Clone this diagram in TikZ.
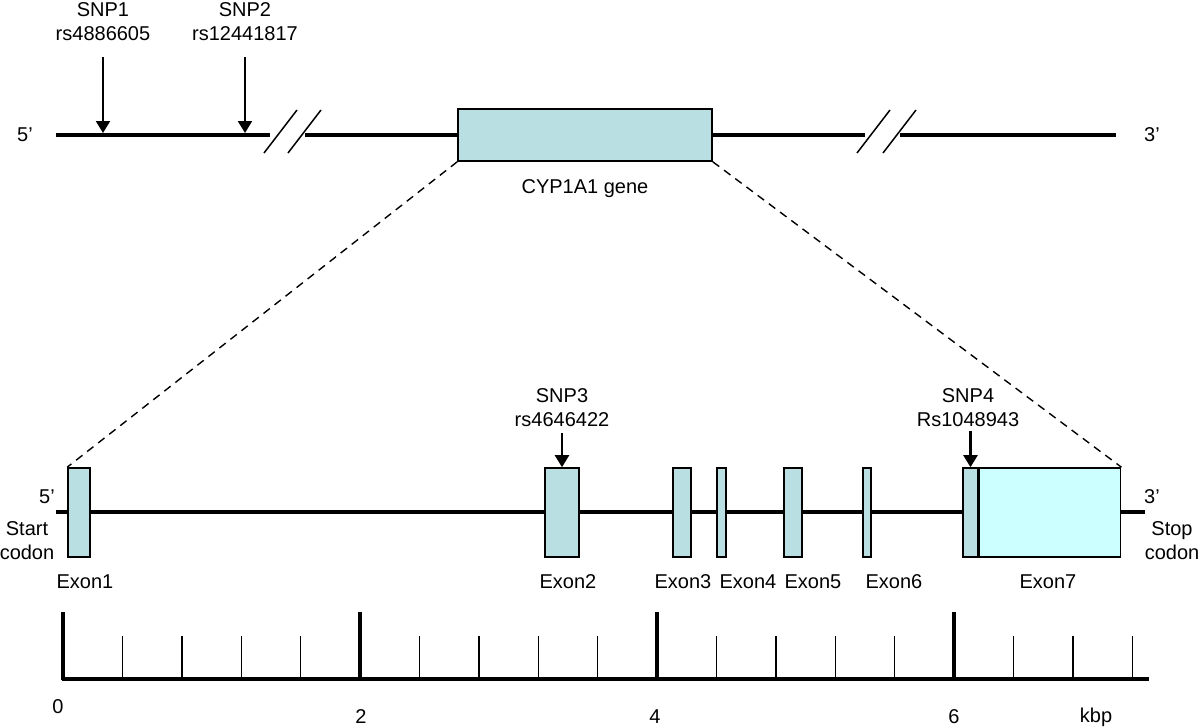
\documentclass[tikz,border=0pt]{standalone}
\usepackage{fontspec}
\setmainfont{Liberation Sans}
\usetikzlibrary{arrows.meta}
\definecolor{exonblue}{HTML}{BADFE3}
\definecolor{exoncyan}{HTML}{CCFFFF}

\begin{document}
\begin{tikzpicture}[x=0.5pt, y=-0.5pt,
    exon/.style={draw, fill=exonblue, line width=0.8pt, inner sep=0pt, minimum height=44.5pt},
    dna/.style={line width=2.4pt},
    snp/.style={-{Triangle[width=7pt,length=6pt]}, line width=1.1pt},
    zoomline/.style={line width=0.7pt, dash pattern=on 4pt off 3pt},
    brk/.style={line width=0.75pt},
    minor/.style={line width=0.7pt}]
  \tikzstyle{every node}=[font=\fontsize{10}{12}\selectfont, align=center, inner sep=0pt]
  \useasboundingbox (0,0) rectangle (1200,728);

  % whole locus
  \coordinate (t0) at (56,135);
  \coordinate (b1) at (270,135);
  \coordinate (b2) at (305,135);
  \coordinate (b3) at (865,135);
  \coordinate (b4) at (900,135);
  \coordinate (t1) at (1116,135);
  \node[exon, minimum width=127pt, minimum height=26pt] (gene) at (585,135) {};
  \draw[dna] (t0) -- (b1) (b2) -- (gene) (gene) -- (b3) (b4) -- (t1);
  \foreach \x in {264,288,857,883}
    \draw[brk] (\x,153) -- ++(33,-43);
  \node (gl) at (585,189) {CYP1A1 gene};
  \node (p5) at (25,135) {5'};
  \node (p3) at (1152,135) {3'};

  \node (snp1) at (103,22) {SNP1\\rs4886605};
  \node (snp2) at (245,22) {SNP2\\rs12441817};
  \coordinate (s1) at (103,133);
  \coordinate (s2) at (245,133);
  \draw[snp, shorten <=8pt] (snp1) -- (s1);
  \draw[snp, shorten <=8pt] (snp2) -- (s2);

  % exons
  \coordinate (g0) at (56,512);
  \coordinate (g1) at (1145,512);
  \draw[dna] (g0) -- (g1);
  \foreach \n/\x/\w in {1/79/11, 2/562/17, 3/682/9, 4/721.5/4.5, 5/793/9, 6/867/4}
    \node[exon, minimum width=\w pt] (e\n) at (\x,512.5) {};
  \node[exon, minimum width=7.5pt] (e7a) at (970.5,512.5) {};
  \node[exon, fill=exoncyan, minimum width=70.5pt, anchor=west] (e7b) at (e7a.east) {};
  \foreach \n/\x in {1/85, 2/568, 3/683, 4/748, 5/813, 6/894, 7/1048}
    \node (x\n) at (\x,582) {Exon\n};

  \draw[zoomline] (gene.south west) -- (e1.north west)
                  (gene.south east) -- (e7b.north east);

  \node (snp3) at (562,408) {SNP3\\rs4646422};
  \node (snp4) at (968,408) {SNP4\\Rs1048943};
  \draw[snp, shorten <=3pt] (snp3) -- (e2);
  \draw[snp, shorten <=2pt] (snp4.south -| e7a) -- (e7a.north);

  \node (q5) at (47,497) {5'};
  \node (q3) at (1152,497) {3'};
  \node (start) at (27,541) {Start\\codon};
  \node (stop) at (1172,541) {Stop\\codon};

  % scale
  \coordinate (k0) at (62,679);
  \coordinate (k1) at (1149,679);
  \draw[dna] (k0) -- (k1);
  \foreach \k in {1,...,18}
    \draw[minor] (63+59.4*\k,679) -- ++(0,-43);
  \foreach \k in {0,5,10,15}
    \draw[dna] (63+59.4*\k,680) -- ++(0,-68);
  \foreach \v/\x/\y in {0/58/707, 2/361/717, 4/655/717, 6/954/717}
    \node (n\v) at (\x,\y) {\v};
  \node (kbp) at (1096,717) {kbp};
\end{tikzpicture}
\end{document}
